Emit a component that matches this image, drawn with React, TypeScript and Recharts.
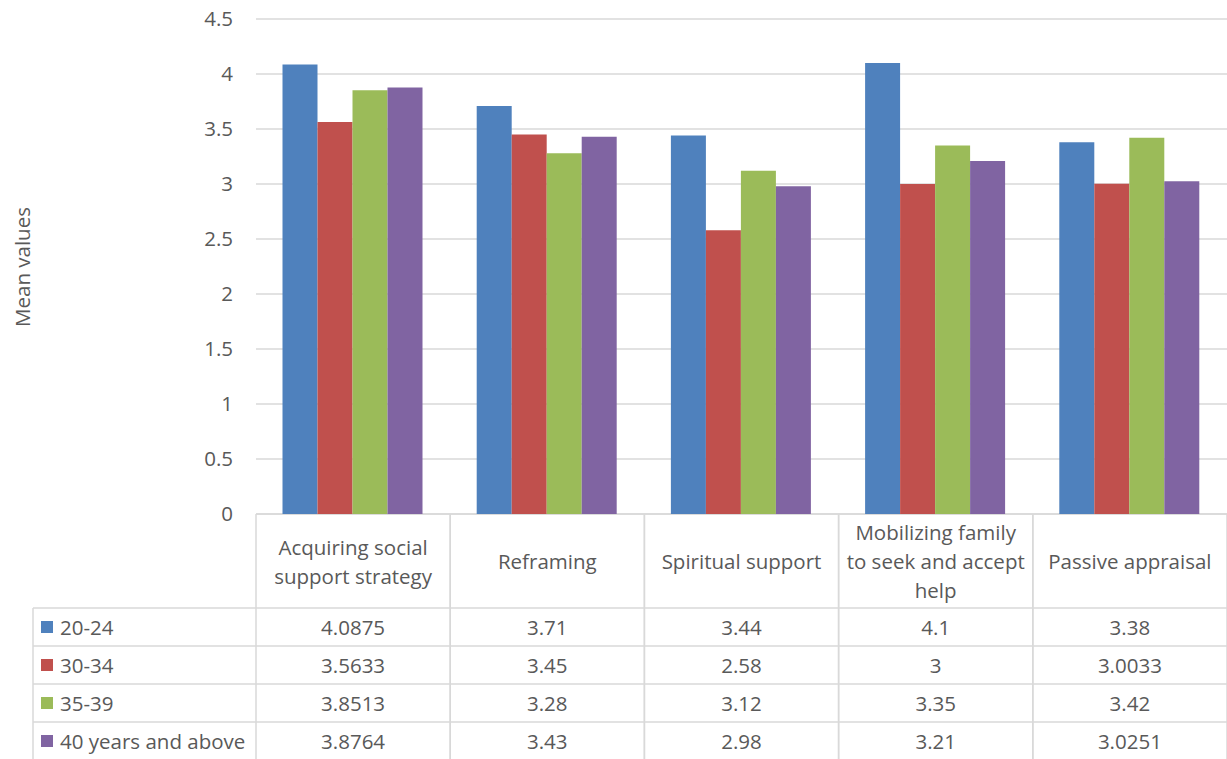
import React from "react";
import { BarChart, Bar, XAxis, YAxis, CartesianGrid } from "recharts";

const categories = [
  "Acquiring social support strategy",
  "Reframing",
  "Spiritual support",
  "Mobilizing family to seek and accept help",
  "Passive appraisal",
];
const categoryLines: string[][] = [
  ["Acquiring social", "support strategy"],
  ["Reframing"],
  ["Spiritual support"],
  ["Mobilizing family", "to seek and accept", "help"],
  ["Passive appraisal"],
];
const seriesNames = ["20-24", "30-34", "35-39", "40 years and above"];
const age2024 = [4.0875, 3.71, 3.44, 4.1, 3.38];
const age3034 = [3.5633, 3.45, 2.58, 3, 3.0033];
const age3539 = [3.8513, 3.28, 3.12, 3.35, 3.42];
const age40up = [3.8764, 3.43, 2.98, 3.21, 3.0251];
const yTicks = [0, 0.5, 1, 1.5, 2, 2.5, 3, 3.5, 4, 4.5];

const COLORS = ["#4F81BD", "#C0504D", "#9BBB59", "#8064A2"];
const TEXT = "#595959";
const LINE = "#D9D9D9";
const FONT = "'Open Sans', sans-serif";
const FS = 20.5;

const W = 1227;
const H = 759;
const PLOT_LEFT = 256;
const PLOT_TOP = 19;
const PLOT_BOTTOM = 514;
const BAND = (W - PLOT_LEFT) / categories.length;
const HEADER_BOTTOM = 608;
const ROW_H = 38;
const TABLE_LEFT = 33;

const allSeries = [age2024, age3034, age3539, age40up];
const data = categories.map((name, i) => ({
  name,
  s0: age2024[i],
  s1: age3034[i],
  s2: age3539[i],
  s3: age40up[i],
}));

function TableColumn(props: any) {
  const { x, y, index } = props;
  const left = x - BAND / 2;
  const right = x + BAND / 2;
  const lines = categoryLines[index] || [];
  const lineH = 29;
  const headerMid = (y + HEADER_BOTTOM) / 2;
  const firstY = headerMid - ((lines.length - 1) * lineH) / 2;
  return (
    <g>
      <line x1={left} y1={y} x2={left} y2={H + 1} stroke={LINE} strokeWidth={1.5} />
      <line x1={right} y1={y} x2={right} y2={H + 1} stroke={LINE} strokeWidth={1.5} />
      {lines.map((t, k) => (
        <text
          key={k}
          x={x}
          y={firstY + k * lineH}
          textAnchor="middle"
          dominantBaseline="central"
          fill={TEXT}
          fontSize={FS}
          fontFamily={FONT}
        >
          {t}
        </text>
      ))}
      {allSeries.map((s, r) => (
        <text
          key={r}
          x={x}
          y={HEADER_BOTTOM + ROW_H * r + ROW_H / 2}
          textAnchor="middle"
          dominantBaseline="central"
          fill={TEXT}
          fontSize={FS}
          fontFamily={FONT}
        >
          {String(s[index])}
        </text>
      ))}
    </g>
  );
}

function LegendColumn() {
  return (
    <g>
      <line x1={TABLE_LEFT} y1={HEADER_BOTTOM} x2={TABLE_LEFT} y2={H + 1} stroke={LINE} strokeWidth={1.5} />
      {seriesNames.map((_, r) => (
        <line
          key={"h" + r}
          x1={TABLE_LEFT}
          y1={HEADER_BOTTOM + ROW_H * r}
          x2={W}
          y2={HEADER_BOTTOM + ROW_H * r}
          stroke={LINE}
          strokeWidth={1.5}
        />
      ))}
      <line x1={PLOT_LEFT} y1={PLOT_BOTTOM} x2={W} y2={PLOT_BOTTOM} stroke={LINE} strokeWidth={1.5} />
      {seriesNames.map((name, r) => {
        const cy = HEADER_BOTTOM + ROW_H * r + ROW_H / 2;
        return (
          <g key={name}>
            <rect x={41} y={cy - 6} width={12} height={12} fill={COLORS[r]} />
            <text x={60} y={cy} dominantBaseline="central" fill={TEXT} fontSize={FS} fontFamily={FONT}>
              {name}
            </text>
          </g>
        );
      })}
      <text
        x={22}
        y={267}
        transform="rotate(-90 22 267)"
        textAnchor="middle"
        dominantBaseline="central"
        fill={TEXT}
        fontSize={FS}
        fontFamily={FONT}
      >
        Mean values
      </text>
    </g>
  );
}

export default function App() {
  return (
    <div style={{ position: "absolute", left: 0, top: 0, width: W, height: H, background: "#fff" }}>
      <BarChart
        width={W}
        height={H}
        data={data}
        margin={{ top: PLOT_TOP, right: 0, bottom: 0, left: 0 }}
        barCategoryGap={26.5}
        barGap={0}
      >
        <CartesianGrid vertical={false} stroke={LINE} strokeWidth={1.5} />
        <XAxis
          dataKey="name"
          height={H - PLOT_BOTTOM}
          axisLine={false}
          tickLine={false}
          tickSize={0}
          tickMargin={0}
          interval={0}
          tick={<TableColumn />}
        />
        <YAxis
          width={PLOT_LEFT}
          domain={[0, 4.5]}
          ticks={yTicks}
          interval={0}
          axisLine={false}
          tickLine={false}
          tickSize={0}
          tickMargin={23}
          tick={{ fill: TEXT, fontSize: FS, fontFamily: FONT }}
        />
        {["s0", "s1", "s2", "s3"].map((k, i) => (
          <Bar key={k} dataKey={k} name={seriesNames[i]} fill={COLORS[i]} isAnimationActive={false} />
        ))}
        <LegendColumn />
      </BarChart>
    </div>
  );
}
